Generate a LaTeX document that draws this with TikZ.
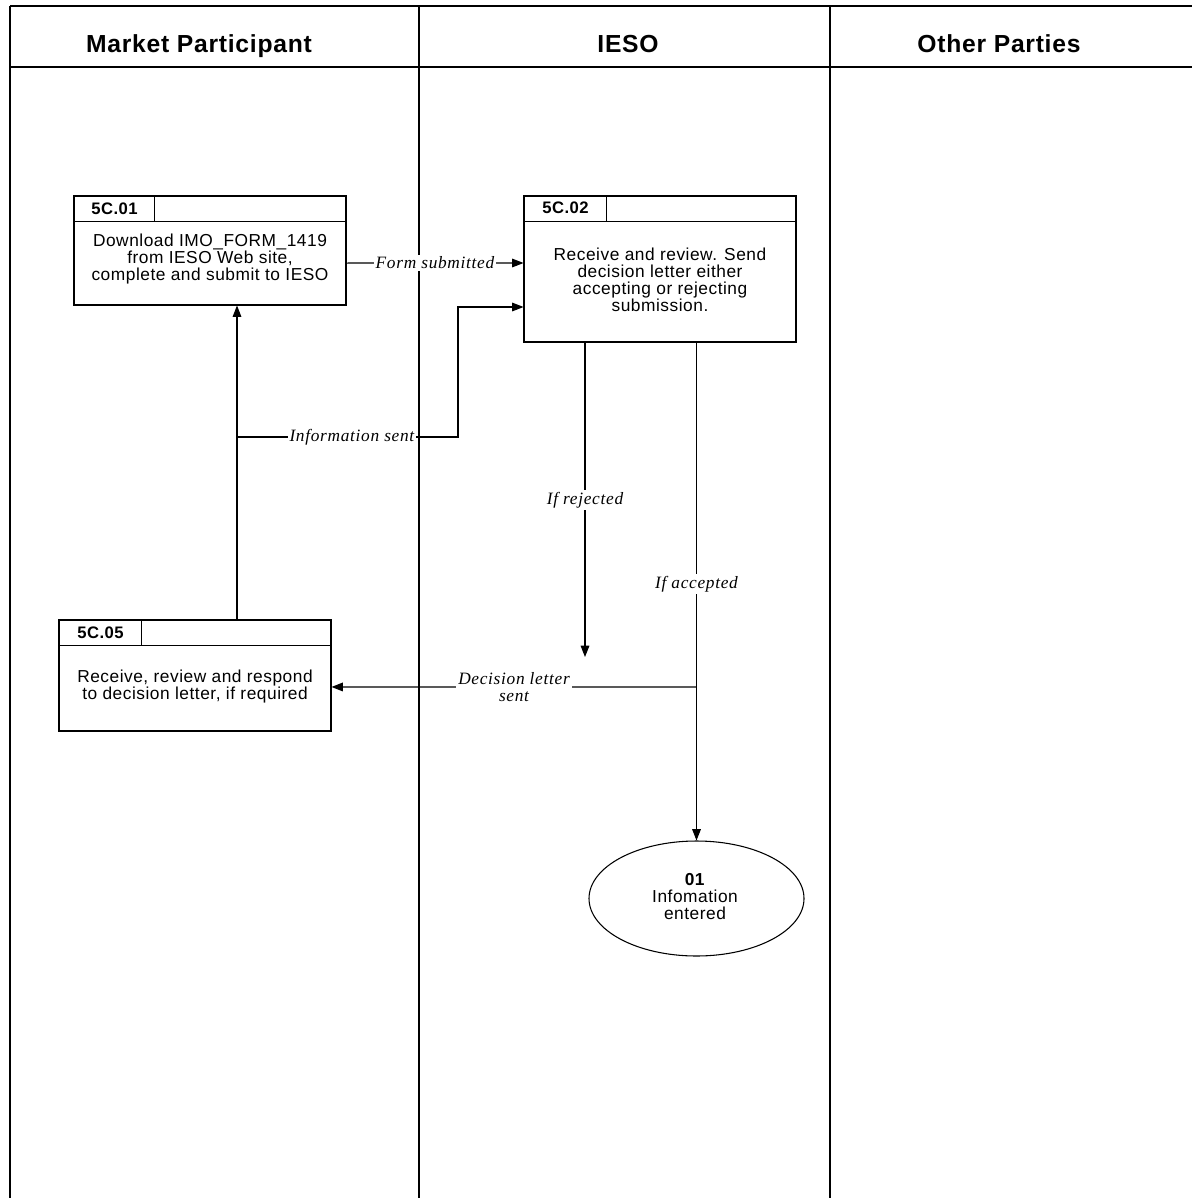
\documentclass[tikz,border=0pt]{standalone}
\usepackage{fontspec}
\usepackage{tikz}
\usetikzlibrary{arrows.meta}
\usetikzlibrary{shapes}
\newfontfamily\boxfont[LetterSpace=3]{Liberation Sans}
\newfontfamily\lblfont[LetterSpace=4]{Liberation Serif}

\tikzset{
  lane/.style={line width=0.8pt},
  procbox/.style={draw, rectangle, line width=0.8pt, minimum width=204pt, inner sep=0pt},
  boxtext/.style={align=center, inner sep=0.75pt, font=\boxfont\fontsize{13}{12.75}\selectfont},
  boxid/.style={inner sep=0.75pt, font=\boxfont\bfseries\fontsize{12.5}{13}\selectfont},
  lanetitle/.style={inner sep=0.75pt, text height=13pt, text depth=4pt, font=\boxfont\bfseries\fontsize{18.5}{20}\selectfont},
  flow/.style={line width=0.8pt, -{Triangle[length=8.5pt,width=6.5pt]}},
  lbl/.style={fill=white, inner sep=1.5pt, align=center, font=\lblfont\itshape\fontsize{13}{13}\selectfont},
}

\begin{document}
\begin{tikzpicture}[x=0.75pt,y=0.75pt,yscale=-1,xscale=1]
\useasboundingbox (0,0) rectangle (1192,1198);

%Swimlanes
\draw [lane] (10,6) -- (1192,6) ;
\draw [lane] (10,67) -- (1192,67) ;
\draw [lane] (10,6) -- (10,1198) ;
\draw [lane] (419,6) -- (419,1198) ;
\draw [lane] (830,6) -- (830,1198) ;

% Lane titles
\node (mp) at (199,47) [lanetitle] {Market Participant};
\node (ieso) at (628,47) [lanetitle] {IESO};
\node (others) at (999,47) [lanetitle] {Other Parties};

%Shape: 5C.01
\node (s01) at (210,250.5) [procbox, minimum height=81.75pt] {};
\draw [lane] ([yshift=19.5pt]s01.north west) -- ([yshift=19.5pt]s01.north east) ;
\draw [lane] ([xshift=60.75pt]s01.north west) -- ([xshift=60.75pt,yshift=19.5pt]s01.north west) ;
\node (s01id) at (114.5,208.5) [boxid] {5C.01};
\node (s01txt) at ([yshift=6.5pt]s01.center) [boxtext] {Download IMO\_FORM\_1419\\from IESO Web site,\\complete and submit to IESO};

%Shape: 5C.02
\node (s02) at (660,269) [procbox, minimum height=109.5pt] {};
\draw [lane] ([yshift=19.5pt]s02.north west) -- ([yshift=19.5pt]s02.north east) ;
\draw [lane] ([xshift=62.25pt]s02.north west) -- ([xshift=62.25pt,yshift=19.5pt]s02.north west) ;
\node (s02id) at (565.5,208) [boxid] {5C.02};
\node (s02txt) at ([yshift=8.25pt]s02.center) [boxtext] {Receive and review. Send\\decision letter either\\accepting or rejecting\\submission.};

%Shape: 5C.05
\node (s05) at (195,675.5) [procbox, minimum height=83.25pt] {};
\draw [lane] ([yshift=19.5pt]s05.north west) -- ([yshift=19.5pt]s05.north east) ;
\draw [lane] ([xshift=62.25pt]s05.north west) -- ([xshift=62.25pt,yshift=19.5pt]s05.north west) ;
\node (s05id) at (100.5,633) [boxid] {5C.05};
\node (s05txt) at ([yshift=8.5pt]s05.center) [boxtext] {Receive, review and respond\\to decision letter, if required};

%Shape: Ellipse 01
\node (e01) at (696.5,898.5) [draw, ellipse, line width=0.8pt, minimum width=161.25pt, minimum height=86.25pt, inner sep=0pt] {};
\node (e01txt) at (695,897) [boxtext] {\textbf{01}\\Infomation\\entered};

% Connectors
\draw [flow] ([yshift=9.4pt]s01.east) -- node[lbl] {Form submitted} ([yshift=-4.5pt]s02.west) ;
\draw [flow] ([xshift=31.5pt]s05.north) -- ([xshift=20.25pt]s01.south) ;
\coordinate (infojoin) at (237,437) ;
\coordinate (infobend) at (458,437) ;
\draw [flow] (infojoin) -- node[lbl, pos=0.52] {Information sent} (infobend) |- ([yshift=28.5pt]s02.west) ;
\coordinate (rejend) at (585,657) ;
\draw [flow] ([xshift=-56.25pt]s02.south) -- node[lbl, pos=0.5] {If rejected} (rejend) ;
\draw [flow] ([xshift=27.375pt]s02.south) -- node[lbl, pos=0.485] {If accepted} (e01.north) ;
\coordinate (letterjoin) at (696.5,687) ;
\draw [flow] (letterjoin) -- node[lbl, pos=0.5] {Decision letter\\sent} ([yshift=8.6pt]s05.east) ;

\end{tikzpicture}
\end{document}
